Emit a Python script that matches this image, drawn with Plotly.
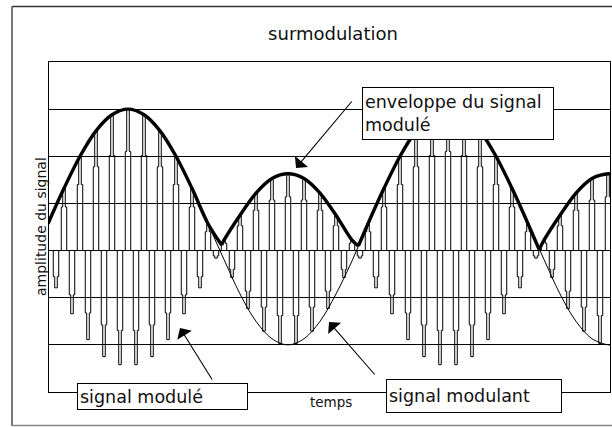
import plotly.graph_objects as go

# ---------------- data ----------------
title_text = "surmodulation"
y_label = "amplitude du signal"
x_label = "temps"
label_envelope = "enveloppe du signal<br>modulé"
label_modulated = "signal modulé"
label_modulating = "signal modulant"

# carrier half-cycles: positions (temps, in carrier periods) and peak heights
up_t = list(range(1, 36))
up_peak = [1.32, 2.00, 2.54, 2.88, 3.00, 2.88, 2.54, 2.00, 1.32, 0.57,
           0.22, 0.75, 1.22, 1.53, 1.63, 1.53, 1.22, 0.75, 0.22,
           0.57, 1.32, 2.00, 2.54, 2.88, 3.00, 2.88, 2.54, 2.00, 1.32, 0.57,
           0.22, 0.75, 1.22, 1.53, 1.63]
down_t = [k + 0.5 for k in range(35)]
down_peak = [-0.79, -1.34, -1.89, -2.25, -2.42, -2.42, -2.25, -1.89, -1.34, -0.79, -0.16,
             -0.57, -1.23, -1.71, -1.97, -1.97, -1.71, -1.23, -0.57,
             -0.16, -0.79, -1.34, -1.89, -2.25, -2.42, -2.42, -2.25, -1.89, -1.34, -0.79, -0.16,
             -0.57, -1.23, -1.71, -1.97]

# envelope of the modulated signal (bold curve)
env_t = [0, 1, 2, 3, 4, 5, 6, 7, 8, 9, 10, 10.85,
         11, 12, 13, 14, 15, 16, 17, 18, 19, 19.4,
         20, 21, 22, 23, 24, 25, 26, 27, 28, 29, 30, 30.7,
         31, 32, 33, 34, 35, 35.2]
env_v = [0.57, 1.32, 2.00, 2.54, 2.88, 3.00, 2.88, 2.54, 2.00, 1.32, 0.57, 0.12,
         0.22, 0.75, 1.22, 1.53, 1.63, 1.53, 1.22, 0.75, 0.22, 0.10,
         0.57, 1.32, 2.00, 2.54, 2.88, 3.00, 2.88, 2.54, 2.00, 1.32, 0.57, 0.02,
         0.22, 0.75, 1.22, 1.53, 1.63, 1.62]
env_breaks = [10.85, 19.4, 30.7]

# modulating signal (thin curve)
mod_t = [0, 1, 2, 3, 4, 5, 6, 7, 8, 9, 10,
         11, 12, 13, 14, 15, 16, 17, 18, 19,
         20, 21, 22, 23, 24, 25, 26, 27, 28, 29, 30,
         31, 32, 33, 34, 35, 35.2]
mod_v = [0.57, 1.32, 2.00, 2.54, 2.88, 3.00, 2.88, 2.54, 2.00, 1.32, 0.57,
         -0.19, -0.92, -1.50, -1.87, -2.00, -1.87, -1.50, -0.92, -0.22,
         0.57, 1.32, 2.00, 2.54, 2.88, 3.00, 2.88, 2.54, 2.00, 1.32, 0.57,
         -0.19, -0.92, -1.50, -1.87, -2.00, -2.00]

# ---------------- layout constants ----------------
W, H = 612, 427
ML, MR, MT, MB = 49, 2, 62, 35
PW, PH = W - ML - MR, H - MT - MB
FONT = "DejaVu Sans"
INK = "#111111"


def px_x(p):
    return (p - ML) / PW


def px_y(p):
    return (H - MB - p) / PH


# spike outline for each carrier half-cycle
W1, W2, STEP = 0.08, 0.17, 0.7
sx, sy = [], []
for c, p in sorted(zip(up_t + down_t, up_peak + down_peak)):
    sx += [c - W2, c - W2, c - W1, c - W1, c + W1, c + W1, c + W2, c + W2]
    sy += [0, STEP * p, STEP * p, p, p, STEP * p, STEP * p, 0]

fig = go.Figure()
fig.add_trace(go.Scatter(x=sx, y=sy, mode="lines",
                         line=dict(color="#000000", width=1), hoverinfo="skip"))
fig.add_trace(go.Scatter(x=mod_t, y=mod_v, mode="lines",
                         line=dict(color="#000000", width=1, shape="spline", smoothing=1.0),
                         hoverinfo="skip"))

# envelope lobes, split at the cusps
edges = [env_t[0]] + env_breaks + [env_t[-1]]
for a, b in zip(edges[:-1], edges[1:]):
    lt = [t for t in env_t if a <= t <= b]
    lv = [v for t, v in zip(env_t, env_v) if a <= t <= b]
    fig.add_trace(go.Scatter(x=lt, y=lv, mode="lines",
                             line=dict(color="#000000", width=3.4, shape="spline", smoothing=0.9),
                             hoverinfo="skip"))

arrow_style = dict(showarrow=True, arrowhead=1, arrowsize=2.6, arrowwidth=1.1,
                   arrowcolor="#000000")
annotations = [
    dict(text=y_label, x=px_x(31), y=px_y(227), textangle=-90,
         font=dict(family=FONT, size=14, color=INK)),
    dict(text=x_label, x=px_x(331), y=px_y(412),
         font=dict(family=FONT, size=13.5, color=INK)),
    # arrows
    dict(text="", x=px_x(296), y=px_y(168), ax=57, ay=-68, **arrow_style),
    dict(text="", x=px_x(180), y=px_y(328), ax=33, ay=53, **arrow_style),
    dict(text="", x=px_x(329), y=px_y(322), ax=47, ay=54, **arrow_style),
    # label boxes
    dict(text=label_envelope, x=px_x(362), y=px_y(87), xanchor="left", yanchor="top",
         width=186, height=47, align="left", valign="middle",
         bgcolor="#ffffff", bordercolor="#000000", borderwidth=1, borderpad=2,
         font=dict(family=FONT, size=17.5, color=INK)),
    dict(text=label_modulated, x=px_x(77), y=px_y(383), xanchor="left", yanchor="top",
         width=165, height=21, align="left", valign="middle",
         bgcolor="#ffffff", bordercolor="#000000", borderwidth=1, borderpad=2,
         font=dict(family=FONT, size=17.5, color=INK)),
    dict(text=label_modulating, x=px_x(386), y=px_y(379), xanchor="left", yanchor="top",
         width=170, height=28, align="left", valign="middle",
         bgcolor="#ffffff", bordercolor="#000000", borderwidth=1, borderpad=2,
         font=dict(family=FONT, size=17.5, color=INK)),
]
for a in annotations:
    a.setdefault("xref", "paper")
    a.setdefault("yref", "paper")
    a.setdefault("showarrow", False)

# outer frame of the picture
frame = dict(color="#333333", width=1.3)
shapes = [
    dict(type="line", xref="paper", yref="paper", x0=px_x(12), x1=px_x(12),
         y0=px_y(426), y1=px_y(6.5), line=frame),
    dict(type="line", xref="paper", yref="paper", x0=px_x(12), x1=px_x(640),
         y0=px_y(6.5), y1=px_y(6.5), line=frame),
    dict(type="line", xref="paper", yref="paper", x0=px_x(12), x1=px_x(640),
         y0=px_y(425.5), y1=px_y(425.5), line=dict(color="#888888", width=1.3)),
]

fig.update_layout(
    width=W, height=H,
    margin=dict(l=ML, r=MR, t=MT, b=MB, pad=0),
    paper_bgcolor="#ffffff", plot_bgcolor="#ffffff",
    showlegend=False,
    title=dict(text=title_text, x=333 / W, xanchor="center", xref="container",
               y=1 - 34 / H, yanchor="middle", yref="container",
               font=dict(family=FONT, size=18, color=INK)),
    xaxis=dict(range=[0.0625, 35.125], showgrid=False, zeroline=False,
               showticklabels=False, ticks="", showline=True, mirror=True,
               linecolor="#000000", linewidth=1.2),
    yaxis=dict(range=[-3, 4], tick0=-3, dtick=1, showgrid=True, gridcolor="#000000",
               gridwidth=1.2, zeroline=False, showticklabels=False, ticks="",
               showline=True, mirror=True, linecolor="#000000", linewidth=1.2),
    annotations=annotations,
    shapes=shapes,
)

fig.write_html("out.html", config={"displayModeBar": False},
               post_script="document.body.style.margin='0';document.body.style.overflow='hidden';")
